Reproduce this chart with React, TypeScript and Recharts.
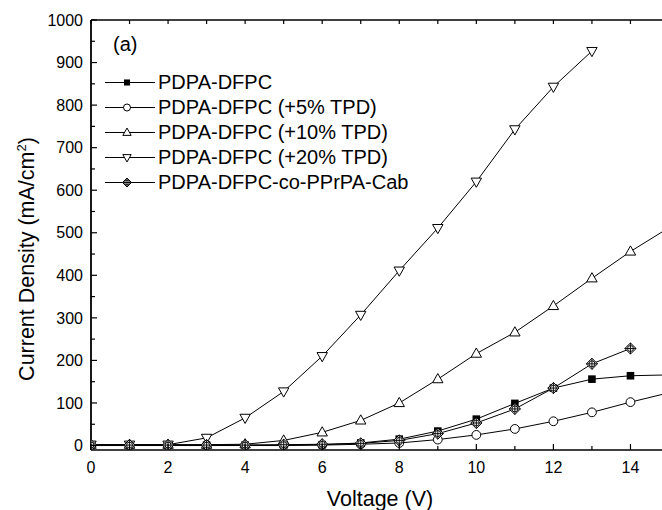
import React from 'react';
import { LineChart, Line, XAxis, YAxis, Legend } from 'recharts';

const FONT = '"Liberation Sans", Arial, Helvetica, sans-serif';

// Data
const voltage = [0, 1, 2, 3, 4, 5, 6, 7, 8, 9, 10, 11, 12, 13, 14, 15];
const pdpaDfpc = [1, 1, 1, 1, 1, 1, 2, 6, 15, 34, 62, 99, 135, 156, 164, 166];
const tpd5 = [0, 0, 0, 0, 0, 0, 1, 3, 6, 14, 25, 39, 57, 78, 102, 124];
const tpd10 = [2, 2, 2, 2, 3, 12, 31, 59, 100, 156, 216, 266, 328, 393, 456, 512];
const tpd20 = [2, 2, 2, 18, 65, 127, 210, 307, 411, 511, 620, 743, 843, 927, null, null];
const coPPrPA = [1, 1, 1, 1, 1, 2, 3, 5, 12, 28, 53, 86, 135, 192, 228, null];

const seriesNames = [
  'PDPA-DFPC',
  'PDPA-DFPC (+5% TPD)',
  'PDPA-DFPC (+10% TPD)',
  'PDPA-DFPC (+20% TPD)',
  'PDPA-DFPC-co-PPrPA-Cab',
];
const seriesKeys = ['s0', 's1', 's2', 's3', 's4'];
const seriesMarkers = ['square', 'circle', 'up', 'down', 'diamond'];
const seriesValues = [pdpaDfpc, tpd5, tpd10, tpd20, coPPrPA];

const xTicks = [0, 1, 2, 3, 4, 5, 6, 7, 8, 9, 10, 11, 12, 13, 14, 15];
const yTicks = [0, 50, 100, 150, 200, 250, 300, 350, 400, 450, 500, 550, 600, 650, 700, 750, 800, 850, 900, 950, 1000];

const data = voltage.map((v, i) => {
  const row: any = { v };
  seriesKeys.forEach((k, j) => {
    row[k] = seriesValues[j][i];
  });
  return row;
});

function Marker({ kind, cx, cy, s = 1 }: { kind: string; cx: number; cy: number; s?: number }) {
  if (cx == null || cy == null || isNaN(cx) || isNaN(cy)) return null;
  switch (kind) {
    case 'square': {
      const h = 3.8 * s;
      return <rect x={cx - h} y={cy - h} width={2 * h} height={2 * h} fill="#000" />;
    }
    case 'circle':
      return <circle cx={cx} cy={cy} r={4.4 * s} fill="#fff" stroke="#000" strokeWidth={1} />;
    case 'up': {
      const w = 5.2 * s;
      return (
        <polygon
          points={`${cx},${cy - 5.6 * s} ${cx + w},${cy + 3.6 * s} ${cx - w},${cy + 3.6 * s}`}
          fill="#fff"
          stroke="#000"
          strokeWidth={1}
        />
      );
    }
    case 'down': {
      const w = 5.2 * s;
      return (
        <polygon
          points={`${cx},${cy + 5.6 * s} ${cx + w},${cy - 3.6 * s} ${cx - w},${cy - 3.6 * s}`}
          fill="#fff"
          stroke="#000"
          strokeWidth={1}
        />
      );
    }
    case 'diamond': {
      const d = 5.6 * s;
      return (
        <g>
          <polygon
            points={`${cx},${cy - d} ${cx + d},${cy} ${cx},${cy + d} ${cx - d},${cy}`}
            fill="#ececec"
            stroke="#000"
            strokeWidth={1}
          />
          <circle cx={cx} cy={cy} r={3 * s} fill="none" stroke="#000" strokeWidth={0.9} />
          <line x1={cx} y1={cy - d} x2={cx} y2={cy + d} stroke="#000" strokeWidth={0.9} />
          <line x1={cx - d} y1={cy} x2={cx + d} y2={cy} stroke="#000" strokeWidth={0.9} />
        </g>
      );
    }
    default:
      return null;
  }
}

const BottomTick = (props: any) => {
  const { x, y, payload } = props;
  const v = payload.value;
  const major = v % 2 === 0;
  return (
    <g>
      <line x1={x} y1={y} x2={x} y2={y - (major ? 6 : 4)} stroke="#000" strokeWidth={1.2} />
      {major && v <= 14 ? (
        <text x={x} y={y + 17.5} dy="0.355em" textAnchor="middle" fontFamily={FONT} fontSize={16} fill="#000">
          {v}
        </text>
      ) : null}
    </g>
  );
};

const TopTick = (props: any) => {
  const { x, y } = props;
  return <line x1={x} y1={y} x2={x} y2={y + 4} stroke="#000" strokeWidth={1.2} />;
};

const LeftTick = (props: any) => {
  const { x, y, payload } = props;
  const v = payload.value;
  const major = v % 100 === 0;
  return (
    <g>
      <line x1={x} y1={y} x2={x + (major ? 6 : 4)} y2={y} stroke="#000" strokeWidth={1.2} />
      {major ? (
        <text x={x - 8} y={y} dy="0.355em" textAnchor="end" fontFamily={FONT} fontSize={16} fill="#000">
          {v}
        </text>
      ) : null}
    </g>
  );
};

const YTitle = (props: any) => {
  const vb = props.viewBox || { x: 0, y: 20, width: 91, height: 430 };
  const cx = vb.x + 26;
  const cy = vb.y + vb.height / 2 + 24;
  return (
    <text
      x={cx}
      y={cy}
      dy="0.355em"
      textAnchor="middle"
      fontFamily={FONT}
      fontSize={21.5}
      fill="#000"
      transform={`rotate(-90, ${cx}, ${cy})`}
    >
      Current Density (mA/cm
      <tspan dy={-8} fontSize={13}>2</tspan>
      <tspan dy={8}>)</tspan>
    </text>
  );
};

const XTitle = (props: any) => {
  const vb = props.viewBox || { x: 91, y: 450, width: 578, height: 60 };
  const cx = vb.x + vb.width / 2;
  const cy = 498;
  return (
    <text x={cx} y={cy} dy="0.355em" textAnchor="middle" fontFamily={FONT} fontSize={21.5} fill="#000">
      Voltage (V)
    </text>
  );
};

const LegendContent = () => (
  <div style={{ fontFamily: FONT, fontSize: 20, color: '#000', lineHeight: '25px' }}>
    <div style={{ height: 25, paddingLeft: 9, marginBottom: 13 }}>(a)</div>
    {seriesNames.map((name, i) => (
      <div key={name} style={{ display: 'flex', alignItems: 'center', height: 25, whiteSpace: 'nowrap' }}>
        <svg width={52} height={25} style={{ display: 'block', flex: 'none' }}>
          <line x1={1} y1={12.5} x2={51} y2={12.5} stroke="#000" strokeWidth={1} />
          <Marker kind={seriesMarkers[i]} cx={23} cy={12.5} s={0.8} />
        </svg>
        <span style={{ marginLeft: 2 }}>{name}</span>
      </div>
    ))}
  </div>
);

export default function App() {
  return (
    <div style={{ position: 'fixed', left: 0, top: 0, width: 662, height: 510, overflow: 'hidden', background: '#fff' }}>
      <LineChart width={669} height={510} data={data} margin={{ top: 19, right: 0, bottom: 0, left: 0 }}>
        <XAxis
          dataKey="v"
          type="number"
          domain={[0, 15]}
          allowDataOverflow
          ticks={xTicks}
          interval={0}
          tickSize={0}
          tickMargin={0}
          tickLine={false}
          tick={<BottomTick />}
          height={60}
          axisLine={{ stroke: '#000', strokeWidth: 1.6 }}
          label={<XTitle />}
        />
        <XAxis
          xAxisId="top"
          orientation="top"
          type="number"
          domain={[0, 15]}
          allowDataOverflow
          ticks={xTicks}
          interval={0}
          tickSize={0}
          tickMargin={0}
          tickLine={false}
          tick={<TopTick />}
          height={1}
          axisLine={{ stroke: '#000', strokeWidth: 1.4 }}
        />
        <YAxis
          type="number"
          domain={[-10.5, 1000]}
          allowDataOverflow
          ticks={yTicks}
          interval={0}
          tickSize={0}
          tickMargin={0}
          tickLine={false}
          tick={<LeftTick />}
          width={91}
          axisLine={{ stroke: '#000', strokeWidth: 1.8 }}
          label={<YTitle />}
        />
        <Legend
          layout="vertical"
          align="center"
          verticalAlign="middle"
          content={<LegendContent />}
          wrapperStyle={{ left: 104, top: 32, width: 340 }}
        />
        {seriesKeys.map((k, i) => (
          <Line
            key={k}
            dataKey={k}
            name={seriesNames[i]}
            type="linear"
            stroke="#000"
            strokeWidth={1}
            isAnimationActive={false}
            activeDot={false}
            dot={(p: any) => <Marker key={`${k}-${p.index}`} kind={seriesMarkers[i]} cx={p.cx} cy={p.cy} />}
          />
        ))}
      </LineChart>
    </div>
  );
}
